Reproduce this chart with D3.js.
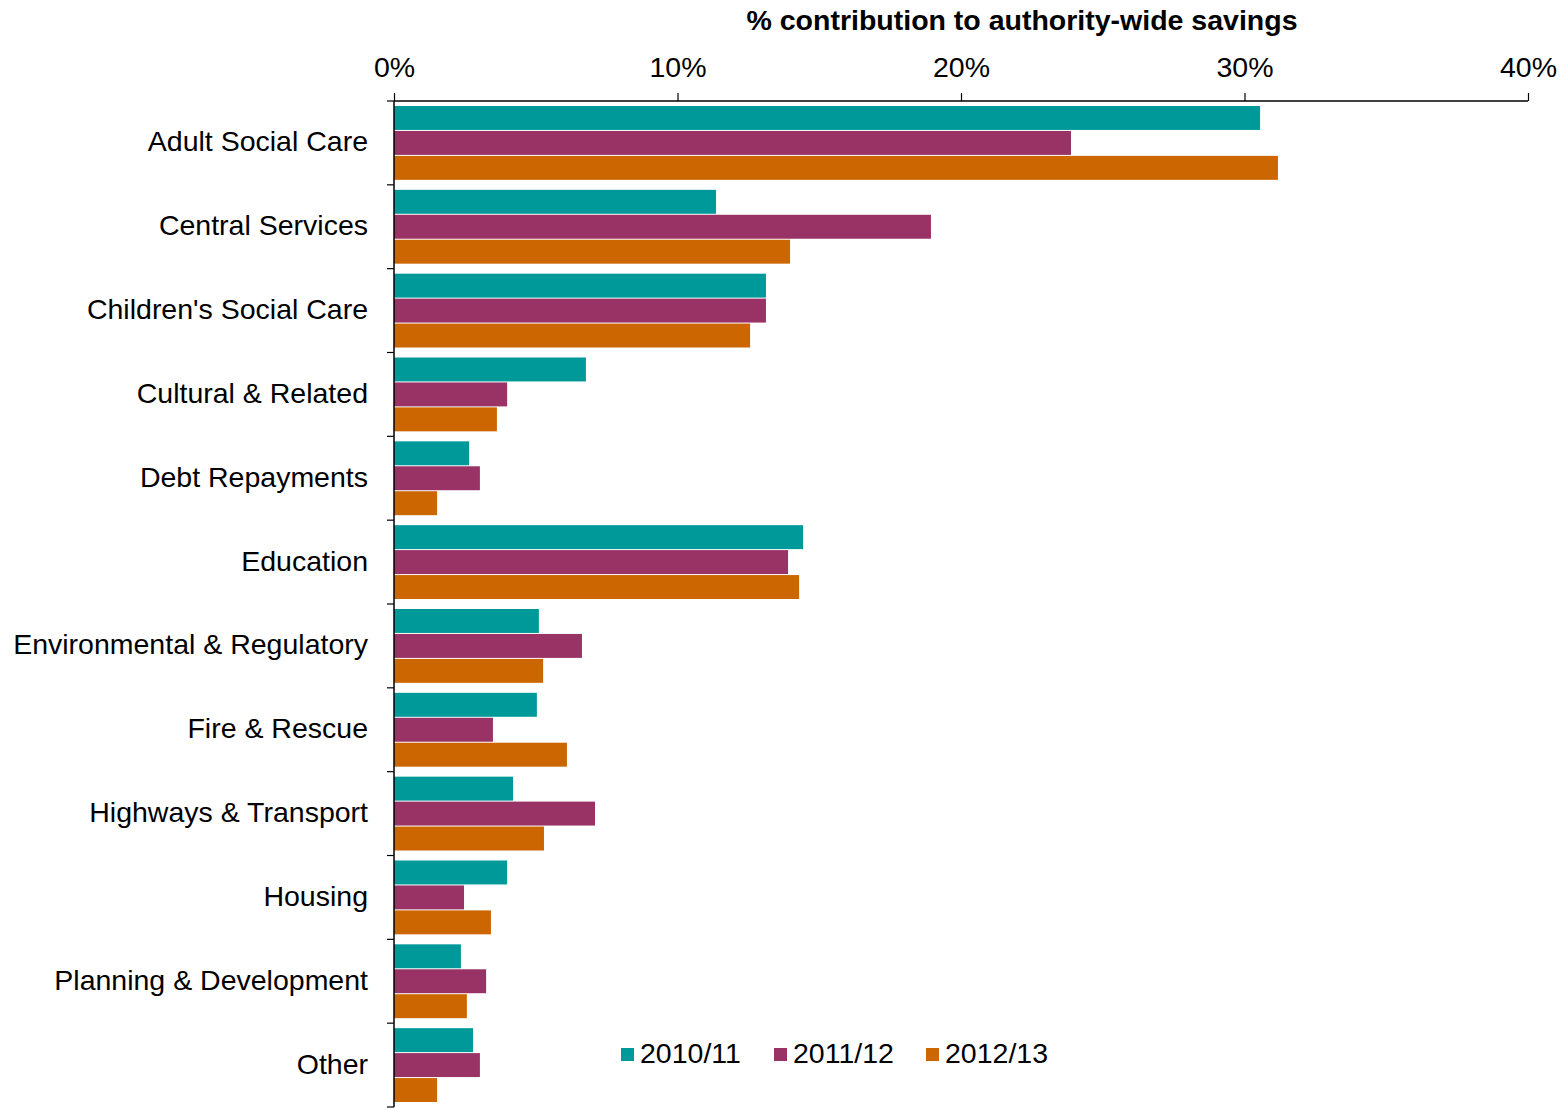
<!DOCTYPE html>
<html>
<head>
<meta charset="utf-8">
<script src="https://cdn.jsdelivr.net/npm/d3@7"></script>
<style>
  html, body { margin: 0; padding: 0; background: #fff; }
  svg text { font-family: "Liberation Sans", Arial, sans-serif; fill: #000; }
</style>
</head>
<body>
<svg id="chart" width="1564" height="1108"></svg>
<script>
// Service areas, top to bottom
const categories = [
  "Adult Social Care", "Central Services", "Children's Social Care",
  "Cultural & Related", "Debt Repayments", "Education",
  "Environmental & Regulatory", "Fire & Rescue", "Highways & Transport",
  "Housing", "Planning & Development", "Other"
];
const years = ["2010/11", "2011/12", "2012/13"];
const colors = ["#009999", "#993366", "#CC6600"];

// % contribution to authority-wide savings, per year
const v2010 = [30.55, 11.36, 13.12, 6.77, 2.65, 14.43, 5.11, 5.04, 4.20, 3.99, 2.36, 2.79];
const v2011 = [23.88, 18.94, 13.12, 3.99, 3.03, 13.90, 6.63, 3.49, 7.09, 2.47, 3.25, 3.03];
const v2012 = [31.18, 13.97, 12.56, 3.63, 1.52, 14.29, 5.26, 6.10, 5.29, 3.42, 2.57, 1.52];
const series = [v2010, v2011, v2012];

const xTicks = [0, 10, 20, 30, 40];

const FONT = 28.5;
const svg = d3.select("#chart");
const plotLeft = 394, plotRight = 1528, plotTop = 101, plotBottom = 1107;

const x = d3.scaleLinear().domain([0, 40]).range([plotLeft, plotRight]);
const y = d3.scaleBand().domain(categories).range([plotTop, plotBottom]).padding(0);
const inner = d3.scaleBand().domain(years).range([5, y.bandwidth() - 5]).paddingInner(0.04);

// Bars
const groups = svg.append("g").selectAll("g")
  .data(categories)
  .join("g")
  .attr("transform", d => `translate(0,${y(d)})`);

groups.selectAll("rect")
  .data((c, i) => years.map((yr, k) => ({ yr, k, v: series[k][i] })))
  .join("rect")
  .attr("x", x(0))
  .attr("y", d => inner(d.yr))
  .attr("width", d => x(d.v) - x(0))
  .attr("height", inner.bandwidth())
  .attr("fill", d => colors[d.k]);

// Top value axis
const xAxis = svg.append("g")
  .attr("transform", `translate(0,${plotTop})`)
  .call(d3.axisTop(x).tickValues(xTicks).tickFormat(d => d + "%").tickSize(8).tickPadding(16));
xAxis.select(".domain").attr("stroke", "#000").attr("stroke-width", 1.5).attr("d", `M${plotLeft},0H${plotRight}`);
xAxis.selectAll(".tick line").attr("stroke", "#000").attr("stroke-width", 1.2);
xAxis.selectAll(".tick text").attr("font-size", FONT).attr("font-family", "Liberation Sans, Arial, sans-serif");

// Left category axis: ticks on band boundaries
const yAxis = svg.append("g").attr("transform", `translate(${plotLeft},0)`);
yAxis.append("line")
  .attr("x1", 0).attr("x2", 0).attr("y1", plotTop).attr("y2", plotBottom)
  .attr("stroke", "#000").attr("stroke-width", 1.5);
const boundaries = categories.map(c => y(c)).concat([plotBottom]);
yAxis.selectAll("line.tk")
  .data(boundaries)
  .join("line")
  .attr("class", "tk")
  .attr("x1", -7).attr("x2", 0)
  .attr("y1", d => d).attr("y2", d => d)
  .attr("stroke", "#000").attr("stroke-width", 1.2);
yAxis.selectAll("text")
  .data(categories)
  .join("text")
  .attr("x", -26)
  .attr("y", d => y(d) + y.bandwidth() / 2 + 1)
  .attr("text-anchor", "end")
  .attr("dominant-baseline", "middle")
  .attr("font-size", FONT)
  .text(d => d);

// Axis title
svg.append("text")
  .attr("x", 1022).attr("y", 30)
  .attr("text-anchor", "middle")
  .attr("font-size", FONT)
  .attr("font-weight", "bold")
  .text("% contribution to authority-wide savings");

// Legend
const legendX = [621, 774, 926];
const legend = svg.append("g").selectAll("g")
  .data(years)
  .join("g")
  .attr("transform", (d, i) => `translate(${legendX[i]},1054)`);
legend.append("rect")
  .attr("x", 0).attr("y", -6).attr("width", 13).attr("height", 13)
  .attr("fill", (d, i) => colors[i]);
legend.append("text")
  .attr("x", 19).attr("y", 1)
  .attr("dominant-baseline", "middle")
  .attr("font-size", FONT)
  .text(d => d);
</script>
</body>
</html>
